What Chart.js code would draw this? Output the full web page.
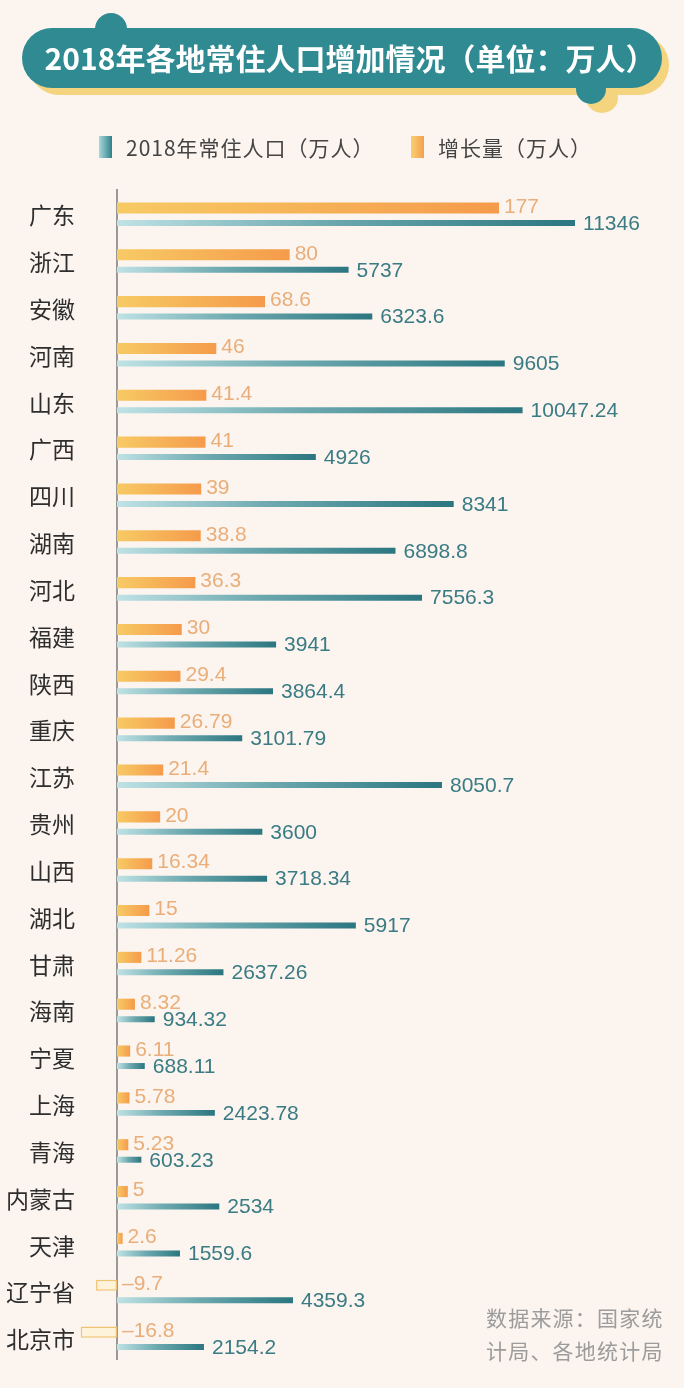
<!DOCTYPE html>
<html><head><meta charset="utf-8">
<script src="https://cdn.jsdelivr.net/npm/chart.js@4/dist/chart.umd.min.js"></script>
<style>
html,body{margin:0;padding:0;background:#fbf4ef;}
#wrap{position:relative;width:684px;height:1388px;overflow:hidden;background:#fbf4ef;font-family:"Noto Sans CJK SC","Noto Sans",sans-serif;}
#c{position:absolute;left:0;top:0;}
.abs{position:absolute;}
.pill{border-radius:30px;}
.dot{border-radius:50%;}
#title{position:absolute;left:38px;top:28px;width:624px;height:58px;line-height:58px;text-align:center;color:#fff;font-weight:700;font-size:30px;white-space:nowrap;}
.leg{position:absolute;top:133px;font-size:21px;letter-spacing:1px;color:#444;line-height:28px;white-space:nowrap;}
.sw{position:absolute;top:136px;width:13px;height:22px;}
#src{position:absolute;left:486px;top:1301px;font-size:21px;letter-spacing:1.2px;line-height:33px;color:#9c9c9c;}
</style></head>
<body><div id="wrap">
<canvas id="c" width="684" height="1388"></canvas>
<div class="abs pill" style="left:29px;top:35px;width:640px;height:60px;background:#f4d47e;"></div>
<div class="abs dot" style="left:586px;top:83px;width:32px;height:30px;background:#f4d47e;"></div>
<div class="abs pill" style="left:22px;top:28px;width:640px;height:60px;background:#2f8a92;"></div>
<div class="abs dot" style="left:95px;top:13px;width:32px;height:32px;background:#2f8a92;"></div>
<div class="abs dot" style="left:576px;top:74px;width:30px;height:30px;background:#2f8a92;"></div>
<div id="title">2018年各地常住人口增加情况（单位：万人）</div>
<div class="sw" style="left:99px;background:linear-gradient(90deg,#a9d8dc,#2f8089);"></div>
<div class="leg" style="left:126px;">2018年常住人口（万人）</div>
<div class="sw" style="left:411px;background:linear-gradient(90deg,#f8cf72,#f5a04e);"></div>
<div class="leg" style="left:438px;">增长量（万人）</div>
<div id="src">数据来源：国家统<br>计局、各地统计局</div>
</div>
<script>
const categories = ['广东','浙江','安徽','河南','山东','广西','四川','湖南','河北','福建','陕西','重庆','江苏','贵州','山西','湖北','甘肃','海南','宁夏','上海','青海','内蒙古','天津','辽宁省','北京市'];
const growth = [177,80,68.6,46,41.4,41,39,38.8,36.3,30,29.4,26.79,21.4,20,16.34,15,11.26,8.32,6.11,5.78,5.23,5,2.6,-9.7,-16.8];
const population = [11346,5737,6323.6,9605,10047.24,4926,8341,6898.8,7556.3,3941,3864.4,3101.79,8050.7,3600,3718.34,5917,2637.26,934.32,688.11,2423.78,603.23,2534,1559.6,4359.3,2154.2];

function grad(c, axis, stops, solid, negFill){
  const ch = c.chart, sc = ch.scales[axis];
  if (c.type !== 'data' || !sc) return solid;
  const v = c.raw;
  if (v < 0) return negFill;
  const x0 = sc.getPixelForValue(0), x1 = sc.getPixelForValue(v);
  if (!isFinite(x0) || !isFinite(x1)) return solid;
  const g = ch.ctx.createLinearGradient(x0, 0, Math.max(x1, x0 + 1), 0);
  stops.forEach(s => g.addColorStop(s[0], s[1]));
  return g;
}

const axisLine = {
  id: 'axisLine',
  beforeDatasetsDraw(chart){
    const ctx = chart.ctx, x = chart.scales.xg.getPixelForValue(0), a = chart.chartArea;
    ctx.save(); ctx.strokeStyle = '#7a7a7a'; ctx.lineWidth = 1.5;
    ctx.beginPath(); ctx.moveTo(x, a.top - 3); ctx.lineTo(x, a.bottom - 3); ctx.stroke(); ctx.restore();
  }
};
const valueLabels = {
  id: 'valueLabels',
  afterDatasetsDraw(chart){
    const ctx = chart.ctx;
    ctx.save();
    ctx.textBaseline = 'middle'; ctx.textAlign = 'left';
    chart.data.datasets.forEach((ds, i) => {
      const meta = chart.getDatasetMeta(i);
      meta.data.forEach((el, j) => {
        const v = ds.data[j];
        const p = el.getProps(['x','y','base'], true);
        let x, y, txt = String(Math.abs(v));
        if (v < 0) txt = '–' + txt;
        ctx.font = '21px "Liberation Sans", Arial, sans-serif';
        if (i === 0){
          ctx.fillStyle = '#e9ae79';
          x = (v < 0 ? p.base : p.x) + 5; y = p.y - 1;
        } else {
          ctx.fillStyle = '#3a7b84';
          x = p.x + 8; y = p.y + 1;
        }
        ctx.fillText(txt, x, y);
      });
    });
    ctx.restore();
  }
};

new Chart(document.getElementById('c'), {
  type: 'bar',
  data: {
    labels: categories,
    datasets: [
      { label: '增长量（万人）', data: growth, xAxisID: 'xg',
        categoryPercentage: 0.64, barPercentage: 0.74,
        backgroundColor: c => grad(c, 'xg', [[0,'#f7ca64'],[1,'#f59b4b']], '#f59b4b', '#fdf2da'),
        borderColor: '#efc36f',
        borderWidth: c => (c.raw < 0 ? 1.5 : 0), borderSkipped: false },
      { label: '2018年常住人口（万人）', data: population, xAxisID: 'xp',
        categoryPercentage: 0.64, barPercentage: 0.4,
        backgroundColor: c => grad(c, 'xp', [[0,'#bfe2e5'],[0.45,'#6eaab0'],[1,'#2b7680']], '#2b7680', '#2b7680'),
        borderWidth: 0 }
    ]
  },
  options: {
    indexAxis: 'y',
    responsive: false,
    animation: false,
    layout: { padding: { top: 192, bottom: 25, right: 4, left: 0 } },
    plugins: { legend: { display: false }, tooltip: { enabled: false }, title: { display: false } },
    scales: {
      xg: { type: 'linear', display: false, min: -18.07, max: 260.87 },
      xp: { type: 'linear', display: false, min: -966.1, max: 13947 },
      y: {
        position: 'left',
        grid: { display: false, drawTicks: false },
        border: { display: false },
        ticks: { color: '#2e2e2e', padding: 3, font: { family: '"Noto Sans CJK SC"', size: 23 } },
        afterFit: s => { s.width = 78; }
      }
    }
  },
  plugins: [axisLine, valueLabels]
});
</script>
</body></html>
